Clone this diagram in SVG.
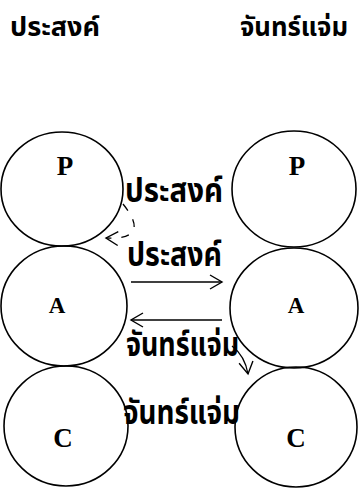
<svg xmlns="http://www.w3.org/2000/svg" width="360" height="488" viewBox="0 0 360 488">
<style>
.node ellipse{fill:none;stroke:#000;stroke-width:1.6}
.letter{font-family:"Liberation Serif","DejaVu Serif",serif;font-weight:bold;text-anchor:middle;fill:#000}
.thai{font-family:"Noto Sans Thai","Noto Sans","DejaVu Sans",sans-serif;font-weight:bold;fill:#000}
.conn path,.conn line{fill:none;stroke:#000;stroke-width:1.3}
</style>
<defs>
<marker id="arr" markerWidth="16" markerHeight="16" refX="13" refY="8" orient="auto" markerUnits="userSpaceOnUse">
<path d="M1,1 L13,8 L1,15" fill="none" stroke="#000" stroke-width="1.4"/>
</marker>
</defs>
<rect width="360" height="488" fill="#fff"/>
<text class="thai" x="10" y="36" font-size="27" textLength="90" lengthAdjust="spacingAndGlyphs">ประสงค์</text>
<text class="thai" x="240" y="36" font-size="27" textLength="108" lengthAdjust="spacingAndGlyphs">จันทร์แจ่ม</text>
<g id="P1" class="node"><ellipse cx="62" cy="189" rx="61" ry="57"/><text class="letter" x="65" y="175" font-size="27">P</text></g>
<g id="A1" class="node"><ellipse cx="64" cy="306" rx="63" ry="60"/><text class="letter" x="57" y="313" font-size="23">A</text></g>
<g id="C1" class="node"><ellipse cx="66" cy="426" rx="62" ry="60"/><text class="letter" x="63" y="447" font-size="27">C</text></g>
<g id="P2" class="node"><ellipse cx="294" cy="189" rx="62" ry="58"/><text class="letter" x="297" y="175" font-size="27">P</text></g>
<g id="A2" class="node"><ellipse cx="294" cy="308" rx="64" ry="60"/><text class="letter" x="296" y="313" font-size="23">A</text></g>
<g id="C2" class="node"><ellipse cx="296" cy="427" rx="61" ry="60"/><text class="letter" x="296" y="447" font-size="27">C</text></g>
<g id="connectors" class="conn">
<line x1="131" y1="282" x2="222" y2="282" marker-end="url(#arr)"/>
<line x1="222" y1="320" x2="131" y2="320" marker-end="url(#arr)"/>
<path d="M123,204 Q152,240 106,238" stroke-dasharray="8,10" marker-end="url(#arr)"/>
<path d="M232,346 Q245,356 248,374" marker-end="url(#arr)"/>
</g>
<text class="thai" x="125" y="202" font-size="33" textLength="98" lengthAdjust="spacingAndGlyphs">ประสงค์</text>
<text class="thai" x="127" y="266" font-size="33" textLength="95" lengthAdjust="spacingAndGlyphs">ประสงค์</text>
<text class="thai" x="126" y="356" font-size="33" textLength="113" lengthAdjust="spacingAndGlyphs">จันทร์แจ่ม</text>
<text class="thai" x="123" y="424" font-size="33" textLength="117" lengthAdjust="spacingAndGlyphs">จันทร์แจ่ม</text>
</svg>
